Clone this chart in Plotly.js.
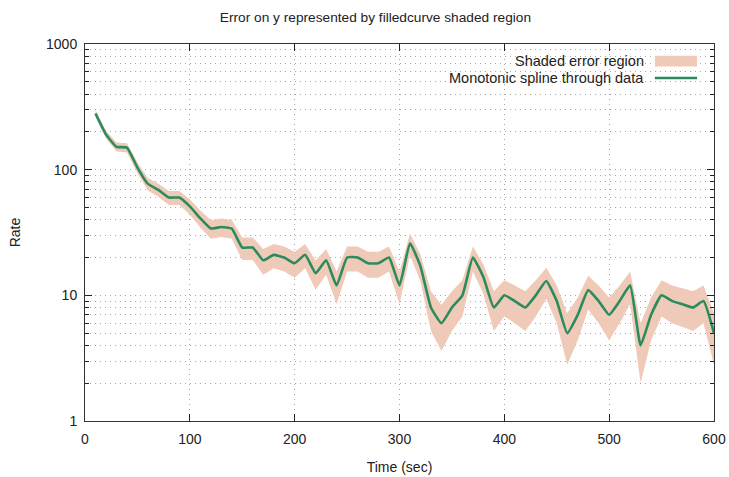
<!DOCTYPE html>
<html>
<head>
<meta charset="utf-8">
<script src="https://cdn.plot.ly/plotly-3.0.1.min.js"></script>
<style>html,body{margin:0;padding:0;background:#fff;}#chart{width:729px;height:477px;}</style>
</head>
<body>
<div id="chart"></div>
<script>
var time = [10,20,30,40,50,60,70,80,90,100,110,120,130,140,150,160,170,180,190,200,
            210,220,230,240,250,260,270,280,290,300,310,320,330,340,350,360,370,380,390,400,
            410,420,430,440,450,460,470,480,490,500,510,520,530,540,550,560,570,580,590,600];
var rate = [280,191,152,150,104,77,69,60,60,51,41,34,35,34,24,24,19,21,20,18,
            21,15,19,12,20,20,18,18,20,12,26,17,8,6,8,10,20,14,8,10,
            9,8,10,13,9,5,7,11,9,7,9,12,4,7,10,9,8.5,8,9,5];
var err = [16.7,13.8,12.3,12.2,10.2,8.8,8.3,7.7,7.7,7.1,6.4,5.8,5.9,5.8,4.9,4.9,4.4,4.6,4.5,4.2,
           4.6,3.9,4.4,3.5,4.5,4.5,4.2,4.2,4.5,3.5,5.1,4.1,2.8,2.4,2.8,3.2,4.5,3.7,2.8,3.2,
           3.0,2.8,3.2,3.6,3.0,2.2,2.6,3.3,3.0,2.6,3.0,3.5,2.0,2.6,3.2,3.0,2.9,2.8,3.0,2.2];

var lower = rate.map(function(v,i){return v-err[i];});
var upper = rate.map(function(v,i){return v+err[i];});

var fillColor = '#f0cab8';
var lineColor = '#2a8c5c';
var font = 'Liberation Sans, Arial, sans-serif';

var traces = [
  {x: time, y: lower, type:'scatter', mode:'lines', line:{width:0, color:fillColor}, hoverinfo:'skip', showlegend:false},
  {x: time, y: upper, type:'scatter', mode:'lines', line:{width:0, color:fillColor}, fill:'tonexty', fillcolor:fillColor, showlegend:false, name:'Shaded error region'},
  {x: time, y: rate, type:'scatter', mode:'lines', line:{width:2.6, color:lineColor, shape:'spline', smoothing:0.4}, showlegend:false, name:'Monotonic spline through data'}
];

var gridC = '#a8a8a8';
var gridDash = '1px,4px';
var layout = {
  width: 729, height: 477,
  margin: {l:85, r:15, t:44, b:56},
  paper_bgcolor:'#fff', plot_bgcolor:'#fff',
  font: {family: font, size: 13, color:'#222'},
  title: {text:'Error on y represented by filledcurve shaded region', x:0.515, xanchor:'center', y:0.963, yanchor:'middle', font:{size:13.7, family:font, color:'#222'}},
  showlegend:false,
  xaxis: {
    range:[0,600], dtick:100, tick0:0,
    showline:true, linecolor:'#333', linewidth:1, mirror:'ticks',
    ticks:'inside', ticklen:7, tickcolor:'#222', tickwidth:1,
    showgrid:true, gridcolor:gridC, griddash:gridDash, gridwidth:1,
    zeroline:false, ticklabelstandoff:5,
    tickfont:{size:14, family:font, color:'#222'},
    title:{text:'Time (sec)', font:{size:14, family:font, color:'#222'}, standoff:16}
  },
  yaxis: {
    type:'log', range:[0,3], dtick:1,
    showline:true, linecolor:'#333', linewidth:1, mirror:'ticks',
    ticks:'inside', ticklen:7, tickcolor:'#222', tickwidth:1,
    showgrid:true, gridcolor:gridC, griddash:gridDash, gridwidth:1,
    zeroline:false, ticklabelstandoff:4,
    tickfont:{size:14, family:font, color:'#222'},
    minor:{ticks:'inside', ticklen:4, tickcolor:'#222', showgrid:true, gridcolor:gridC, griddash:gridDash, gridwidth:1},
    title:{text:'Rate', font:{size:14, family:font, color:'#222'}, standoff:22}
  },
  annotations: [
    {xref:'paper', yref:'paper', x:0.892, y:0.955, xanchor:'right', yanchor:'middle', text:'Shaded error region', showarrow:false, font:{size:14.5, family:font, color:'#222'}},
    {xref:'paper', yref:'paper', x:0.892, y:0.910, xanchor:'right', yanchor:'middle', text:'Monotonic spline through data', showarrow:false, font:{size:14.5, family:font, color:'#222'}}
  ],
  shapes: [
    {type:'rect', xref:'paper', yref:'paper', x0:0.906, x1:0.973, y0:0.940, y1:0.969, fillcolor:fillColor, line:{width:0}},
    {type:'line', xref:'paper', yref:'paper', x0:0.906, x1:0.973, y0:0.910, y1:0.910, line:{color:lineColor, width:2.6}}
  ]
};

Plotly.newPlot('chart', traces, layout, {displayModeBar:false, staticPlot:true});
</script>
</body>
</html>
